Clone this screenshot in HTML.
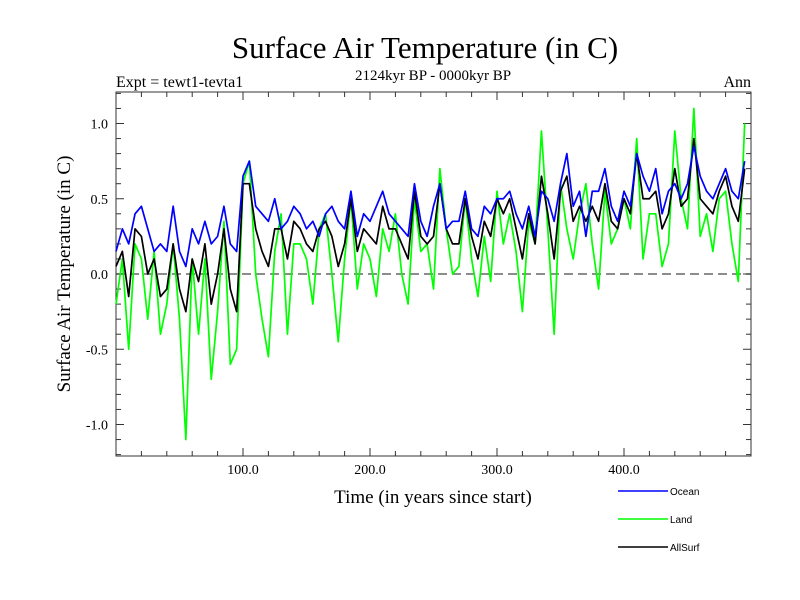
<!DOCTYPE html>
<html><head><meta charset="utf-8"><style>
body{margin:0;background:#fff;}
svg{display:block;font-family:"Liberation Serif",serif;}
</style></head><body>
<svg id="chart" width="800" height="600" xmlns="http://www.w3.org/2000/svg">
<rect width="800" height="600" fill="#fff"/>
<text x="425" y="58" font-size="31" text-anchor="middle">Surface Air Temperature (in C)</text>
<text x="433" y="80" font-size="15" text-anchor="middle">2124kyr BP - 0000kyr BP</text>
<text x="116" y="87" font-size="16">Expt = tewt1-tevta1</text>
<text x="751" y="87" font-size="16" text-anchor="end">Ann</text>
<text transform="translate(70,274) rotate(-90)" font-size="19" text-anchor="middle">Surface Air Temperature (in C)</text>
<text x="433" y="503" font-size="19" text-anchor="middle">Time (in years since start)</text>
<g id="axes"></g>
<g id="series"></g>
<g font-family="Liberation Sans, sans-serif" font-size="10">
<line x1="618" y1="491" x2="668" y2="491" stroke="#0000ff" stroke-width="1.5"/><text x="670" y="495">Ocean</text>
<line x1="618" y1="519" x2="668" y2="519" stroke="#00ff00" stroke-width="1.5"/><text x="670" y="523">Land</text>
<line x1="618" y1="547" x2="668" y2="547" stroke="#000" stroke-width="1.5"/><text x="670" y="551">AllSurf</text>
</g>
</svg>
<script>
const years = []; for (let i = 0; i < 100; i++) years.push(i * 5);
const yTickVals = [-1.0, -0.5, 0.0, 0.5, 1.0];
const yTickLabels = ["-1.0", "-0.5", "0.0", "0.5", "1.0"];
const xTickVals = [100, 200, 300, 400];
const xTickLabels = ["100.0", "200.0", "300.0", "400.0"];
const ocean = [0.15,0.3,0.2,0.4,0.45,0.3,0.15,0.2,0.15,0.45,0.15,0.05,0.3,0.2,0.35,0.2,0.25,0.45,0.2,0.15,
0.65,0.75,0.45,0.4,0.35,0.5,0.3,0.35,0.45,0.4,0.3,0.35,0.25,0.4,0.45,0.35,0.3,0.55,0.25,0.4,
0.35,0.45,0.55,0.4,0.35,0.3,0.25,0.6,0.35,0.25,0.45,0.6,0.3,0.35,0.35,0.55,0.3,0.25,0.45,0.4,
0.5,0.5,0.55,0.4,0.3,0.45,0.25,0.55,0.5,0.35,0.6,0.8,0.45,0.55,0.25,0.55,0.55,0.7,0.45,0.35,
0.55,0.45,0.8,0.65,0.55,0.7,0.4,0.55,0.6,0.5,0.6,0.85,0.65,0.55,0.5,0.6,0.7,0.55,0.5,0.75];
const land = [-0.2,0.1,-0.5,0.2,0.1,-0.3,0.15,-0.4,-0.2,0.2,-0.3,-1.1,0.1,-0.4,0.1,-0.7,-0.25,0.35,-0.6,-0.5,
0.6,0.75,0.0,-0.3,-0.55,0.15,0.4,-0.4,0.2,0.2,0.1,-0.2,0.3,0.4,0.0,-0.45,0.1,0.5,-0.1,0.2,
0.1,-0.15,0.3,0.15,0.4,0.0,-0.2,0.5,0.15,0.2,-0.1,0.7,0.3,0.0,0.05,0.5,0.1,-0.15,0.25,-0.05,
0.55,0.2,0.4,0.15,-0.25,0.35,0.2,0.95,0.3,-0.4,0.6,0.3,0.1,0.4,0.6,0.2,-0.1,0.55,0.2,0.3,
0.5,0.3,0.9,0.1,0.4,0.4,0.05,0.2,0.95,0.5,0.3,1.1,0.25,0.4,0.15,0.5,0.55,0.2,-0.05,1.0];
const allSurf = [0.05,0.15,-0.15,0.3,0.25,0.0,0.1,-0.15,-0.1,0.2,-0.1,-0.25,0.1,-0.05,0.2,-0.2,0.0,0.3,-0.1,-0.25,
0.6,0.6,0.3,0.15,0.05,0.3,0.3,0.1,0.35,0.3,0.2,0.15,0.3,0.35,0.25,0.05,0.2,0.5,0.15,0.3,
0.25,0.2,0.45,0.3,0.3,0.2,0.1,0.55,0.25,0.2,0.25,0.6,0.3,0.2,0.2,0.5,0.25,0.1,0.35,0.25,
0.5,0.4,0.5,0.3,0.1,0.4,0.2,0.65,0.4,0.1,0.55,0.65,0.35,0.45,0.35,0.45,0.35,0.6,0.35,0.3,
0.5,0.4,0.8,0.5,0.5,0.55,0.3,0.4,0.7,0.45,0.5,0.9,0.5,0.45,0.4,0.55,0.65,0.45,0.35,0.7];

const X0 = 116, X1 = 751, Y0 = 92, Y1 = 456;
const xs = v => X0 + v / 500 * (X1 - X0);
const ys = v => 274 - v * 150.5;
const NS = "http://www.w3.org/2000/svg";
function mk(tag, attrs, parent) { const e = document.createElementNS(NS, tag); for (const k in attrs) e.setAttribute(k, attrs[k]); parent.appendChild(e); return e; }
const axes = document.getElementById('axes');
const frame = mk('rect', {x: X0, y: Y0, width: X1 - X0, height: Y1 - Y0, fill: 'none', stroke: '#333', 'stroke-width': 1}, axes);


const zero = mk('line', {x1: X0, x2: X1, y1: ys(0), y2: ys(0), stroke: '#666', 'stroke-width': 1.5, 'stroke-dasharray': '9,5'}, axes);


for (let v = -1.2; v <= 1.21; v += 0.1) {
  const y = ys(Math.round(v * 10) / 10); const major = Math.abs(Math.round(v * 10)) % 5 === 0; const L = major ? 8 : 5;
  mk('line', {x1: X0, x2: X0 + L, y1: y, y2: y, stroke: '#333'}, axes);
  mk('line', {x1: X1, x2: X1 - L, y1: y, y2: y, stroke: '#333'}, axes);
}
for (let v = 20; v < 500; v += 20) {
  const x = xs(v); const major = v % 100 === 0; const L = major ? 8 : 5;
  mk('line', {x1: x, x2: x, y1: Y1, y2: Y1 - L, stroke: '#333'}, axes);
  mk('line', {x1: x, x2: x, y1: Y0, y2: Y0 + L, stroke: '#333'}, axes);
}
yTickVals.forEach((v, i) => {
  const t = mk('text', {x: X0 - 8, y: ys(v) + 5, 'font-size': 14, 'text-anchor': 'end'}, axes);
  t.textContent = yTickLabels[i];
  
  
});
xTickVals.forEach((v, i) => {
  const t = mk('text', {x: xs(v), y: Y1 + 18, 'font-size': 14, 'text-anchor': 'middle'}, axes);
  t.textContent = xTickLabels[i];
  
  
});
const g = document.getElementById('series');
[[land, '#00ff00', 'land-line'], [allSurf, '#000', 'allsurf-line'], [ocean, '#0000ff', 'ocean-line']].forEach(([arr, c, n]) => {
  const p = mk('polyline', {points: arr.map((v, i) => xs(years[i]) + ',' + ys(v)).join(' '), fill: 'none', stroke: c, 'stroke-width': 1.7, 'stroke-linejoin': 'round'}, g);
  
  
});
</script>
</body></html>
